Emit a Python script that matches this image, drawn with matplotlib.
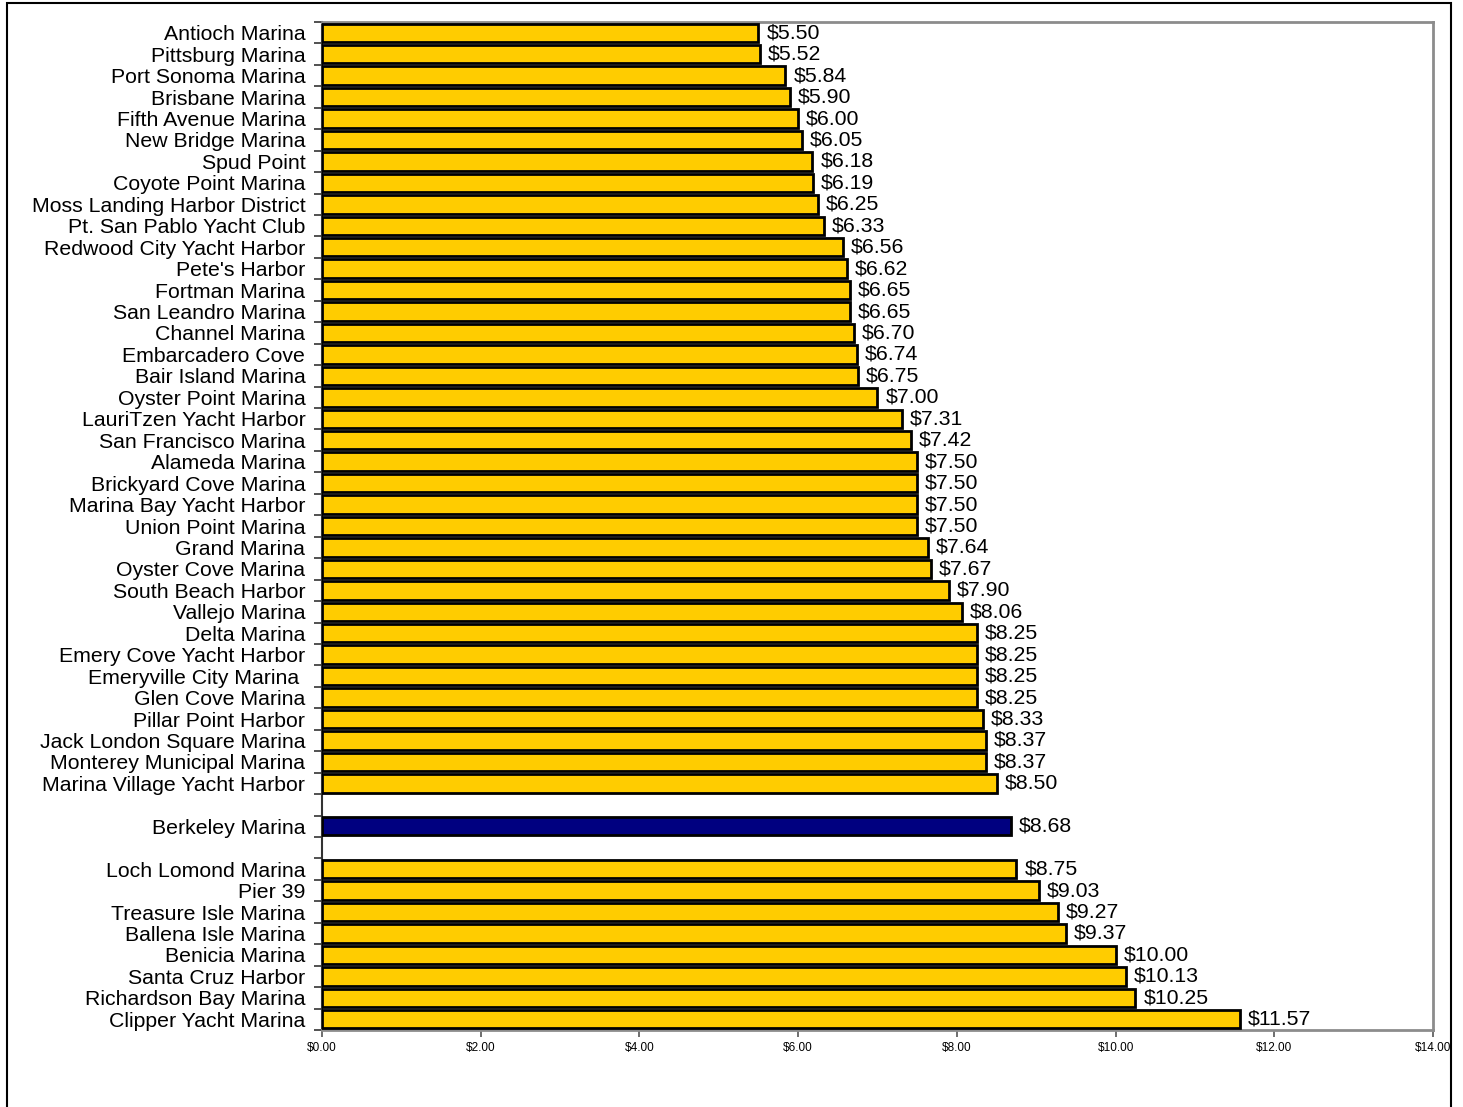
import matplotlib
matplotlib.use("Agg")
import matplotlib.pyplot as plt
from matplotlib.patches import Rectangle
from matplotlib.ticker import FuncFormatter

plt.rcParams['font.family'] = ['Liberation Sans', 'DejaVu Sans']

# marinas top to bottom; None marks an empty row
marinas = ["Antioch Marina", "Pittsburg Marina", "Port Sonoma Marina", "Brisbane Marina",
           "Fifth Avenue Marina", "New Bridge Marina", "Spud Point", "Coyote Point Marina",
           "Moss Landing Harbor District", "Pt. San Pablo Yacht Club", "Redwood City Yacht Harbor",
           "Pete's Harbor", "Fortman Marina", "San Leandro Marina", "Channel Marina",
           "Embarcadero Cove", "Bair Island Marina", "Oyster Point Marina", "LauriTzen Yacht Harbor",
           "San Francisco Marina", "Alameda Marina", "Brickyard Cove Marina", "Marina Bay Yacht Harbor",
           "Union Point Marina", "Grand Marina", "Oyster Cove Marina", "South Beach Harbor",
           "Vallejo Marina", "Delta Marina", "Emery Cove Yacht Harbor", "Emeryville City Marina ",
           "Glen Cove Marina", "Pillar Point Harbor", "Jack London Square Marina",
           "Monterey Municipal Marina", "Marina Village Yacht Harbor", None, "Berkeley Marina", None,
           "Loch Lomond Marina", "Pier 39", "Treasure Isle Marina", "Ballena Isle Marina",
           "Benicia Marina", "Santa Cruz Harbor", "Richardson Bay Marina", "Clipper Yacht Marina"]
rates = [5.50, 5.52, 5.84, 5.90, 6.00, 6.05, 6.18, 6.19, 6.25, 6.33, 6.56, 6.62, 6.65, 6.65,
         6.70, 6.74, 6.75, 7.00, 7.31, 7.42, 7.50, 7.50, 7.50, 7.50, 7.64, 7.67, 7.90, 8.06,
         8.25, 8.25, 8.25, 8.25, 8.33, 8.37, 8.37, 8.50, None, 8.68, None,
         8.75, 9.03, 9.27, 9.37, 10.00, 10.13, 10.25, 11.57]
highlight = "Berkeley Marina"

fig = plt.figure(figsize=(14.63, 11.07), dpi=100)
ax = fig.add_axes([322/1463, 1 - 1030/1107, (1433-322)/1463, (1030-22)/1107])

for i, (name, val) in enumerate(zip(marinas, rates)):
    if val is None:
        continue
    color = "#000080" if name == highlight else "#FFCC00"
    ax.barh(i, val, height=0.86, color=color, edgecolor="black", linewidth=2, zorder=3)
    ax.text(val + 0.1, i, f"${val:.2f}", va="center", ha="left", fontsize=15.3, zorder=4)

n = len(marinas)
ax.set_ylim(n - 0.5, -0.5)
ax.set_xlim(0, 14)
ax.set_yticks(range(n))
ax.set_yticklabels([m if m else "" for m in marinas], fontsize=15.3)
ax.tick_params(axis='y', which='major', length=0, pad=12)
ax.set_yticks([i - 0.5 for i in range(n + 1)], minor=True)
ax.tick_params(axis='y', which='minor', length=6, width=1.2, color="#333333")
ax.set_xticks(range(0, 15, 2))
ax.xaxis.set_major_formatter(FuncFormatter(lambda v, p: f"${v:.2f}"))
ax.tick_params(axis='x', labelsize=8.5, length=5, width=1.2, color="#555555", pad=4)

for side in ["top", "right", "bottom"]:
    ax.spines[side].set_color("#8c8c8c")
    ax.spines[side].set_linewidth(2)
ax.spines["left"].set_color("#333333")
ax.spines["left"].set_linewidth(1.5)

# outer frame
fig.patches.append(Rectangle((7/1463, -0.02), (1451-7)/1463, 1.02 - 3/1107,
                             transform=fig.transFigure, fill=False,
                             edgecolor="black", linewidth=1.5))

fig.savefig("out.png", dpi=100)
